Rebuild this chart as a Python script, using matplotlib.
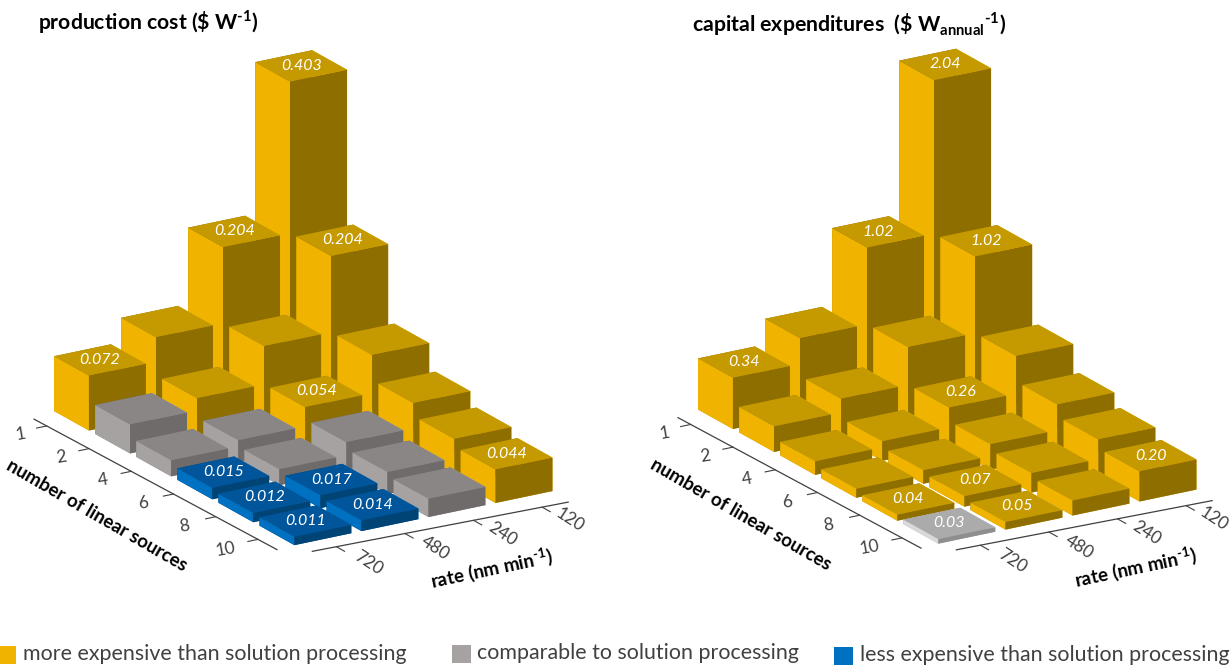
import matplotlib
matplotlib.use("Agg")
import matplotlib.pyplot as plt
from matplotlib.patches import Rectangle
from mpl_toolkits.mplot3d import proj3d

plt.rcParams["font.family"] = "Lato"
plt.rcParams["mathtext.fontset"] = "custom"
plt.rcParams["mathtext.rm"] = "Lato:bold"
plt.rcParams["mathtext.bf"] = "Lato:bold"

W, H = 1231, 665

rates = ["120", "240", "480", "720"]
sources = ["1", "2", "4", "6", "8", "10"]

# rows = sources, columns = rates. unlabelled bars are estimated from their height
cost = [
    [0.403, 0.204, 0.104, 0.072],
    [0.204, 0.104, 0.054, 0.038],
    [0.104, 0.054, 0.029, 0.021],
    [0.071, 0.038, 0.021, 0.015],
    [0.054, 0.029, 0.017, 0.012],
    [0.044, 0.024, 0.014, 0.011],
]
cost_labels = [
    ["0.403", "0.204", "", "0.072"],
    ["0.204", "", "", ""],
    ["", "0.054", "", ""],
    ["", "", "", "0.015"],
    ["", "", "0.017", "0.012"],
    ["0.044", "", "0.014", "0.011"],
]
cost_kind = [
    ["y", "y", "y", "y"],
    ["y", "y", "y", "g"],
    ["y", "y", "g", "g"],
    ["y", "g", "g", "b"],
    ["y", "g", "b", "b"],
    ["y", "g", "b", "b"],
]

capex = [
    [2.04, 1.02, 0.51, 0.34],
    [1.02, 0.51, 0.26, 0.17],
    [0.51, 0.26, 0.13, 0.09],
    [0.34, 0.17, 0.09, 0.06],
    [0.26, 0.13, 0.07, 0.04],
    [0.20, 0.10, 0.05, 0.03],
]
capex_labels = [
    ["2.04", "1.02", "", "0.34"],
    ["1.02", "", "", ""],
    ["", "0.26", "", ""],
    ["", "", "", ""],
    ["", "", "0.07", "0.04"],
    ["0.20", "", "0.05", "0.03"],
]
capex_kind = [
    ["y", "y", "y", "y"],
    ["y", "y", "y", "y"],
    ["y", "y", "y", "y"],
    ["y", "y", "y", "y"],
    ["y", "y", "y", "y"],
    ["y", "y", "y", "l"],
]

# top, left face, right face
shades = {
    "y": ("#C49A00", "#F0B400", "#8F6E00"),
    "g": ("#8A8686", "#A6A2A2", "#6F6B6B"),
    "b": ("#00559B", "#0070C0", "#004476"),
    "l": ("#ABABAB", "#D9D9D9", "#8E8E8E"),
}

AXC = "#404040"
TXT = "#404040"

fig = plt.figure(figsize=(W / 100, H / 100), dpi=100)
fig.patch.set_facecolor("white")


def px_of(ax, x, y, z):
    x2, y2, _ = proj3d.proj_transform(x, y, z, ax.get_proj())
    return ax.transData.transform((x2, y2))


def add_axes_at(dx, dy, zmax):
    ax = fig.add_axes([0, 0, 1000 / W, 1000 / H], projection="3d", computed_zorder=False)
    ax.set_proj_type("ortho")
    ax.view_init(elev=20, azim=58.5)
    ax.set_xlim(0, 4)
    ax.set_ylim(0, 6)
    ax.set_zlim(0, zmax)
    ax.set_box_aspect((4 * 79.5, 6 * 79.5, 330))
    ax.set_axis_off()
    ax.patch.set_alpha(0)

    # scale and shift the axes so two bar corners land where they do in the reference
    ax.apply_aspect()
    p1 = px_of(ax, 0.925, 5.925, 0)
    p2 = px_of(ax, 3.925, 5.925, 0)
    size = 1000 * 205.5 / ((p1[0] - p2[0]) ** 2 + (p1[1] - p2[1]) ** 2) ** 0.5
    ax.set_position([0, 0, size / W, size / H])
    ax.apply_aspect()
    p1 = px_of(ax, 0.925, 5.925, 0)
    left = (495.5 + dx - p1[0]) / W
    bottom = (H - 503 - dy - p1[1]) / H
    ax.set_position([left, bottom, size / W, size / H])
    ax.apply_aspect()
    return ax


def text_3d(ax, x, y, z, s, **kw):
    # Text3D ignores rotation, so place the label in the projected 2D coordinates
    x2, y2, _ = proj3d.proj_transform(x, y, z, ax.get_proj())
    ax.text2D(x2, y2, s, transform=ax.transData, ha="center", va="center",
              rotation_mode="anchor", **kw)


def draw_chart(ax, values, labels, kinds):
    order = sorted(
        [(j, i) for j in range(len(sources)) for i in range(len(rates))],
        key=lambda c: c[0] + c[1],
    )
    for n, (j, i) in enumerate(order):
        top, lft, rgt = shades[kinds[j][i]]
        # bottom, top, -y, +y, -x, +x
        faces = [top, top, rgt, rgt, lft, lft]
        bar = ax.bar3d(i + 0.075, j + 0.075, 0, 0.85, 0.85, values[j][i],
                       color=faces, shade=False, linewidth=0)
        bar.set_zorder(5 + n)
        if labels[j][i]:
            text_3d(ax, i + 0.5, j + 0.5, values[j][i], labels[j][i], color="white",
                    style="italic", fontsize=11.5, zorder=100)

    # depth axes, drawn slightly skewed because the original has a little perspective
    ax.plot([4.3, 4.2], [0.2, 5.95], [0, 0], color=AXC, lw=0.9, zorder=1)
    ax.plot([0.12, 3.85], [6.38, 6.24], [0, 0], color=AXC, lw=0.9, zorder=1)
    for j, s in enumerate(sources):
        xt = 4.3 - 0.1 * (j + 0.3) / 5.75
        ax.plot([xt, xt + 0.15], [j + 0.5, j + 0.5], [0, 0], color=AXC, lw=0.8, zorder=1)
        text_3d(ax, 4.75, j + 0.6, 0, s, color=TXT, fontsize=12.5, rotation=10)
    for i, r in enumerate(rates):
        yt = 6.38 - 0.14 * (i + 0.38) / 3.73
        ax.plot([i + 0.5, i + 0.5], [yt, yt + 0.2], [0, 0], color=AXC, lw=0.8, zorder=1)
        text_3d(ax, i + 0.46, 6.97, 0, r, color=TXT, fontsize=12.5, rotation=-33)


def px_text(x, y, s, **kw):
    fig.text(x / W, 1 - y / H, s, **kw)


ax1 = add_axes_at(0, 0, 0.403)
draw_chart(ax1, cost, cost_labels, cost_kind)
ax2 = add_axes_at(644, -1.5, 2.04)
draw_chart(ax2, capex, capex_labels, capex_kind)

bold = dict(fontweight="bold", color="black")
px_text(38, 22, r"production cost (\$ W$^{\text{-1}}$)", fontsize=15.2, va="center", **bold)
px_text(692, 24, r"capital expenditures  (\$ W$_{\text{annual}}{}^{\text{-1}}$)", fontsize=15.3,
        va="center", **bold)

for off, yoff in [(0, 0), (644, -1)]:
    px_text(97 + off, 516 + yoff, "number of linear sources", fontsize=13.5, rotation=-30,
            rotation_mode="anchor", ha="center", va="center", **bold)
    px_text(492 + off, 568 + yoff, r"rate (nm min$^{\text{-1}}$)", fontsize=13.5, rotation=12,
            rotation_mode="anchor", ha="center", va="center", **bold)

# colour key
key = [
    (0, 16, 646, "#F0B400", 23, 654, "more expensive than solution processing"),
    (452, 19, 645, "#A6A2A2", 477, 653, "comparable to solution processing"),
    (834, 19, 647, "#0070C0", 860, 655, "less expensive than solution processing"),
]
for x, w, y, c, tx, ty, s in key:
    fig.add_artist(Rectangle((x / W, 1 - (y + 18) / H), w / W, 18 / H,
                             transform=fig.transFigure, facecolor=c, edgecolor="none"))
    px_text(tx, ty, s, color=TXT, fontsize=15.4, va="center")

fig.savefig("out.png", dpi=100)
